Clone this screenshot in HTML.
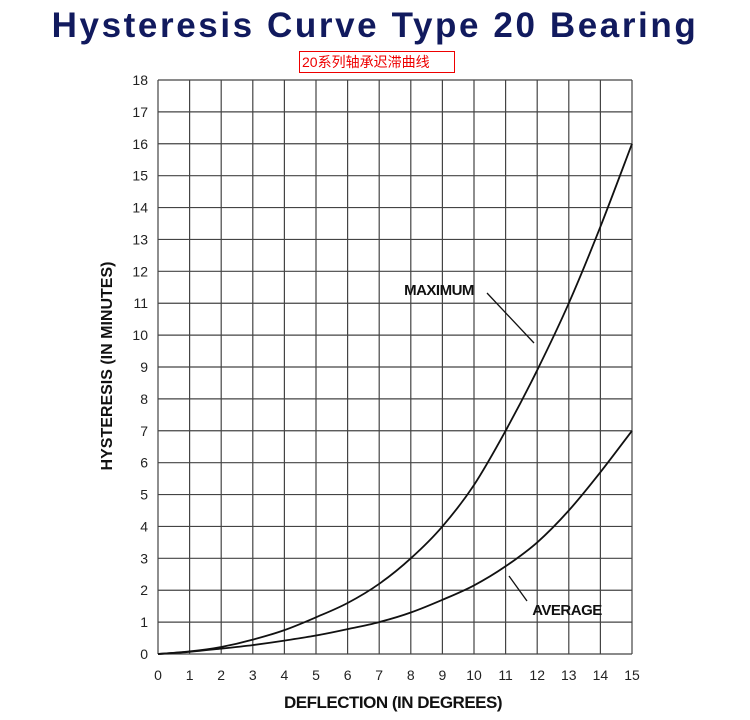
<!DOCTYPE html>
<html><head><meta charset="utf-8"><style>
body{margin:0;background:#fff;width:750px;height:720px;overflow:hidden;position:relative;font-family:"Liberation Sans",sans-serif}
#title{position:absolute;left:0;width:750px;top:6px;text-align:center;font-size:35px;font-weight:bold;color:#111a5e;letter-spacing:2.6px}
#sub{position:absolute;left:299px;top:51px;width:152px;height:20px;border:1px solid #e00;color:#e00;font-size:14px;line-height:20px;padding-left:2px;font-family:"Liberation Sans","Noto Sans CJK SC",sans-serif}
</style></head><body>
<div id="title">Hysteresis Curve Type 20 Bearing</div>
<div id="sub">20系列轴承迟滞曲线</div>
<svg id="chart" width="750" height="720" style="position:absolute;left:0;top:0"></svg>
<script>
const xTicks=[0,1,2,3,4,5,6,7,8,9,10,11,12,13,14,15];
const yTicks=[0,1,2,3,4,5,6,7,8,9,10,11,12,13,14,15,16,17,18];
const deflection=[0,1,2,3,4,5,6,7,8,9,10,11,12,13,14,15];
const maximum=[0,0.08,0.22,0.45,0.75,1.15,1.6,2.2,3.0,4.0,5.3,7.0,8.9,11.0,13.4,16];
const average=[0,0.07,0.17,0.28,0.42,0.58,0.78,1.0,1.3,1.7,2.15,2.75,3.5,4.5,5.7,7.0];
const L=158,R=632,T=80,B=654;
const sx=v=>L+(R-L)*v/15, sy=v=>B-(B-T)*v/18;
const svg=document.getElementById('chart');const NS='http://www.w3.org/2000/svg';
function mk(t,a,p){const e=document.createElementNS(NS,t);for(const k in a)e.setAttribute(k,a[k]);(p||svg).appendChild(e);return e;}
xTicks.forEach(v=>{
 const g=mk('line',{x1:sx(v),x2:sx(v),y1:T,y2:B,stroke:'#444','stroke-width':1.2});
 
 
 const t=mk('text',{x:sx(v),y:680,'text-anchor':'middle','font-size':14,fill:'#222'});t.textContent=v;
 
 
});
yTicks.forEach(v=>{
 const g=mk('line',{x1:L,x2:R,y1:sy(v),y2:sy(v),stroke:'#444','stroke-width':1.2});
 
 
 const t=mk('text',{x:148,y:sy(v)+5,'text-anchor':'end','font-size':14,fill:'#222'});t.textContent=v;
 
 
});
function curve(arr,name){
 const P=deflection.map((x,i)=>[sx(x),sy(arr[i])]);
 let d='M'+P[0][0]+','+P[0][1];
 for(let i=0;i<P.length-1;i++){
  const p0=P[Math.max(i-1,0)],p1=P[i],p2=P[i+1],p3=P[Math.min(i+2,P.length-1)];
  const c1=[p1[0]+(p2[0]-p0[0])/6,p1[1]+(p2[1]-p0[1])/6];
  const c2=[p2[0]-(p3[0]-p1[0])/6,p2[1]-(p3[1]-p1[1])/6];
  d+=`C${c1[0].toFixed(1)},${c1[1].toFixed(1)} ${c2[0].toFixed(1)},${c2[1].toFixed(1)} ${p2[0].toFixed(1)},${p2[1].toFixed(1)}`;
 }
 const p=mk('path',{d:d,fill:'none',stroke:'#111','stroke-width':1.8});
 
 
}
curve(maximum,'maximum-curve');curve(average,'average-curve');
const l1=mk('line',{x1:487,y1:293,x2:534,y2:343,stroke:'#111','stroke-width':1.3});


const l2=mk('line',{x1:509,y1:576,x2:527,y2:601,stroke:'#111','stroke-width':1.3});


function lab(txt,x,y,name){
 const t=mk('text',{x:x,y:y,'text-anchor':'middle','font-size':15,'font-weight':'bold',fill:'#111',style:'letter-spacing:-0.5px'});
 t.textContent=txt;
 
 
 return t;
}
lab('MAXIMUM',439,295,'maximum-label');
lab('AVERAGE',567,615,'average-label');
const xt=lab('DEFLECTION (IN DEGREES)',393,708,'x-axis-title');xt.setAttribute('font-size',17);
const yt=mk('text',{x:112,y:366,'text-anchor':'middle','font-size':16,'font-weight':'bold',fill:'#111',transform:'rotate(-90 112 366)'});
yt.textContent='HYSTERESIS (IN MINUTES)';


</script>
</body></html>
